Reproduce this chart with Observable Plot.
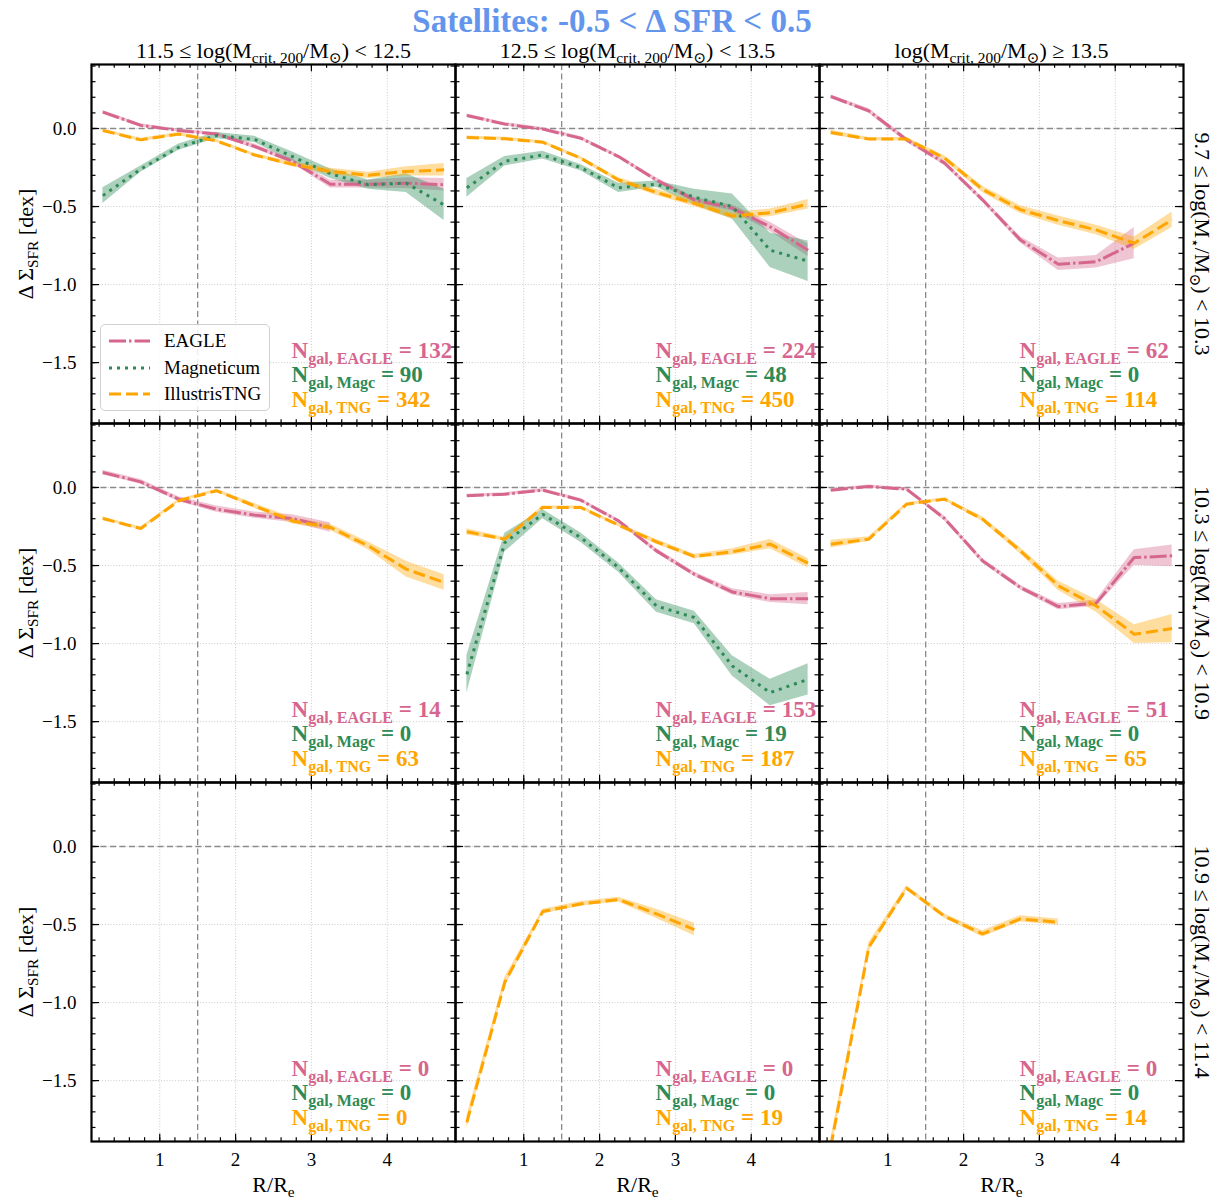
<!DOCTYPE html>
<html><head><meta charset="utf-8">
<script src="https://cdn.jsdelivr.net/npm/d3@7"></script>
<script src="https://cdn.jsdelivr.net/npm/@observablehq/plot@0.6"></script>
<style>
body{margin:0;background:#fff;}
#wrap{position:relative;width:1223px;height:1201px;}
#legend{position:absolute;left:100px;top:324px;width:170px;height:87px;border:1px solid #d0d0d0;border-radius:5px;background:rgba(255,255,255,0.85);font-family:'Liberation Serif','DejaVu Serif',serif;font-size:19px;box-sizing:border-box;}
#legend .row{position:absolute;left:0;height:22px;line-height:22px;}
#legend svg{position:absolute;left:7px;top:6px;}
#legend span{position:absolute;left:63px;white-space:nowrap;}
</style></head><body><div id="wrap"></div><script>
const xBins = [0.25, 0.75, 1.25, 1.75, 2.25, 2.75, 3.25, 3.75, 4.25, 4.75];
const title = "Satellites: -0.5 < Δ SFR < 0.5";
const haloLabels = [
  "11.5 ≤ log(M_{crit, 200}/M_{⊙}) < 12.5",
  "12.5 ≤ log(M_{crit, 200}/M_{⊙}) < 13.5",
  "log(M_{crit, 200}/M_{⊙}) ≥ 13.5"
];
const massLabels = [
  "9.7 ≤ log(M_{⋆}/M_{⊙}) < 10.3",
  "10.3 ≤ log(M_{⋆}/M_{⊙}) < 10.9",
  "10.9 ≤ log(M_{⋆}/M_{⊙}) < 11.4"
];
const yLabel = "Δ Σ_{SFR} [dex]";
const xLabel = "R/R_{e}";
const sims = ["EAGLE", "Magneticum", "IllustrisTNG"];
const simShort = ["EAGLE", "Magc", "TNG"];
const simColors = ["#d6668e", "#2e8b57", "#ffa500"];
const simDash = ["17,3,2.5,3", "3,5", "12,5"];
const yTickValues = [-1.5, -1.0, -0.5, 0.0];
const xTickValues = [1, 2, 3, 4];

// medians: [row = stellar-mass bin][col = halo-mass bin] -> values at xBins (null = no data)
const eagleMed = [
  [[0.105, 0.02, -0.013, -0.036, -0.115, -0.21, -0.357, -0.357, -0.35, -0.36],
   [0.083, 0.028, -0.004, -0.062, -0.18, -0.33, -0.457, -0.51, -0.63, -0.78],
   [0.205, 0.113, -0.073, -0.222, -0.457, -0.714, -0.87, -0.853, -0.735, null]],
  [[0.096, 0.036, -0.075, -0.139, -0.177, -0.199, -0.256, null, null, null],
   [-0.053, -0.043, -0.017, -0.081, -0.214, -0.406, -0.556, -0.669, -0.712, -0.712],
   [-0.017, 0.006, -0.011, -0.199, -0.47, -0.641, -0.763, -0.741, -0.449, -0.438]],
  [[], [], []]
];
const eagleErr = [
  [[0.01, 0.01, 0.01, 0.01, 0.015, 0.015, 0.025, 0.025, 0.035, 0.04],
   [0.01, 0.01, 0.01, 0.01, 0.01, 0.015, 0.015, 0.02, 0.03, 0.04],
   [0.01, 0.015, 0.015, 0.015, 0.015, 0.02, 0.04, 0.04, 0.1, null]],
  [[0.015, 0.015, 0.015, 0.02, 0.02, 0.025, 0.03, null, null, null],
   [0.01, 0.01, 0.01, 0.01, 0.01, 0.015, 0.015, 0.02, 0.025, 0.04],
   [0.01, 0.01, 0.01, 0.015, 0.015, 0.015, 0.02, 0.02, 0.05, 0.07]],
  [[], [], []]
];
const magcMed = [
  [[-0.43, -0.26, -0.12, -0.045, -0.07, -0.18, -0.29, -0.36, -0.35, -0.49],
   [-0.38, -0.21, -0.17, -0.25, -0.38, -0.357, -0.44, -0.5, -0.78, -0.85],
   []],
  [[], [-1.197, -0.353, -0.171, -0.32, -0.513, -0.759, -0.833, -1.143, -1.314, -1.229], []],
  [[], [], []]
];
const magcErr = [
  [[0.05, 0.02, 0.02, 0.02, 0.02, 0.03, 0.03, 0.03, 0.06, 0.1],
   [0.06, 0.03, 0.025, 0.02, 0.03, 0.02, 0.05, 0.08, 0.11, 0.13],
   []],
  [[], [0.12, 0.06, 0.03, 0.03, 0.03, 0.04, 0.04, 0.065, 0.085, 0.1], []],
  [[], [], []]
];
const tngMed = [
  [[-0.013, -0.073, -0.036, -0.08, -0.17, -0.23, -0.275, -0.30, -0.275, -0.265],
   [-0.058, -0.066, -0.088, -0.19, -0.33, -0.41, -0.48, -0.56, -0.54, -0.485],
   [-0.026, -0.068, -0.068, -0.19, -0.39, -0.52, -0.59, -0.65, -0.735, -0.585]],
  [[-0.199, -0.263, -0.085, -0.021, -0.118, -0.214, -0.256, -0.374, -0.523, -0.609],
   [-0.284, -0.331, -0.128, -0.128, -0.241, -0.348, -0.442, -0.412, -0.363, -0.485],
   [-0.363, -0.331, -0.107, -0.075, -0.203, -0.406, -0.63, -0.759, -0.94, -0.904]],
  [[],
   [-1.767, -0.87, -0.417, -0.368, -0.34, -0.432, -0.532, null, null, null],
   [-1.92, -0.645, -0.267, -0.447, -0.56, -0.464, -0.485, null, null, null]]
];
const tngErr = [
  [[0.01, 0.01, 0.01, 0.01, 0.01, 0.015, 0.02, 0.02, 0.03, 0.04],
   [0.01, 0.01, 0.01, 0.01, 0.015, 0.02, 0.02, 0.02, 0.025, 0.03],
   [0.015, 0.01, 0.01, 0.015, 0.02, 0.025, 0.03, 0.03, 0.04, 0.05]],
  [[0.01, 0.01, 0.01, 0.01, 0.015, 0.02, 0.02, 0.025, 0.05, 0.05],
   [0.02, 0.01, 0.01, 0.01, 0.01, 0.015, 0.015, 0.02, 0.03, 0.03],
   [0.025, 0.015, 0.01, 0.01, 0.015, 0.02, 0.03, 0.04, 0.06, 0.09]],
  [[],
   [0.04, 0.03, 0.015, 0.015, 0.015, 0.03, 0.04, null, null, null],
   [0.05, 0.03, 0.015, 0.015, 0.02, 0.02, 0.02, null, null, null]]
];
const ngalEagle = [[132, 224, 62], [14, 153, 51], [0, 0, 0]];
const ngalMagc = [[90, 48, 0], [0, 19, 0], [0, 0, 0]];
const ngalTNG = [[342, 450, 114], [63, 187, 65], [0, 19, 14]];

// ---- build tables ----
const medAll = [eagleMed, magcMed, tngMed];
const errAll = [eagleErr, magcErr, tngErr];
const ngalAll = [ngalEagle, ngalMagc, ngalTNG];
const profiles = sims.map((s, si) => {
  const out = [];
  for (let r = 0; r < 3; r++) for (let c = 0; c < 3; c++) {
    const m = medAll[si][r][c], e = errAll[si][r][c];
    m.forEach((v, i) => {
      if (v == null) return;
      out.push({row: r, col: c, x: xBins[i], y: v, lo: v - e[i], hi: v + e[i]});
    });
  }
  return out;
});
const ngalRows = sims.map((s, si) => {
  const out = [];
  for (let r = 0; r < 3; r++) for (let c = 0; c < 3; c++)
    out.push({row: r, col: c, label: `N_{gal, ${simShort[si]}} = ${ngalAll[si][r][c]}`});
  return out;
});

const W = 1223, H = 1201, mL = 91, mR = 40, mT = 63, mB = 59;
const pw = (W - mL - mR) / 3, ph = (H - mT - mB) / 3;
const xMinor = d3.range(1, 25).map(i => i / 5);
const yMinor = d3.range(-18, 5).map(i => i / 10);
const majLen = 8, minLen = 4.5;
const tickStyle = {stroke: "black", strokeWidth: 1.2};
const fmt = d => (d < 0 ? "\u2212" : "") + Math.abs(d).toFixed(1);

const marks = [
  Plot.ruleX(xTickValues, {stroke: "#c4c4c4", strokeWidth: 0.9, strokeDasharray: "1,1.8"}),
  Plot.ruleY(yTickValues, {stroke: "#c4c4c4", strokeWidth: 0.9, strokeDasharray: "1,1.8"}),
  Plot.ruleY([0], {stroke: "#8a8a8a", strokeWidth: 1.3, strokeDasharray: "6,3.5"}),
  Plot.ruleX([1.5], {stroke: "#8a8a8a", strokeWidth: 1.3, strokeDasharray: "6,3.5"})
];
sims.forEach((s, si) => {
  marks.push(Plot.areaY(profiles[si], {x: "x", y1: "lo", y2: "hi", fx: "col", fy: "row", fill: simColors[si], fillOpacity: si === 1 ? 0.4 : 0.38, clip: true}));
});
sims.forEach((s, si) => {
  marks.push(Plot.line(profiles[si], {x: "x", y: "y", fx: "col", fy: "row", stroke: simColors[si], strokeWidth: 3, strokeDasharray: simDash[si], strokeLinecap: "butt", strokeLinejoin: "miter", clip: true}));
});
marks.push(
  Plot.tickX(xMinor, {x: d => d, insetTop: ph - minLen, ...tickStyle}),
  Plot.tickX(xMinor, {x: d => d, insetBottom: ph - minLen, ...tickStyle}),
  Plot.tickX(xTickValues, {x: d => d, insetTop: ph - majLen, ...tickStyle}),
  Plot.tickX(xTickValues, {x: d => d, insetBottom: ph - majLen, ...tickStyle}),
  Plot.tickY(yMinor, {y: d => d, insetRight: pw - minLen, ...tickStyle}),
  Plot.tickY(yMinor, {y: d => d, insetLeft: pw - minLen, ...tickStyle}),
  Plot.tickY(yTickValues, {y: d => d, insetRight: pw - majLen, ...tickStyle}),
  Plot.tickY(yTickValues, {y: d => d, insetLeft: pw - majLen, ...tickStyle}),
  Plot.frame({stroke: "black", strokeWidth: 2.2}),
  Plot.axisY({anchor: "left", ticks: yTickValues, tickFormat: fmt, tickSize: 0, tickPadding: 15, label: null, fontSize: 19}),
  Plot.axisX({anchor: "bottom", ticks: xTickValues, tickFormat: d => String(d), tickSize: 0, tickPadding: 11, label: null, fontSize: 19})
);
sims.forEach((s, si) => {
  marks.push(Plot.text(ngalRows[si], {fx: "col", fy: "row", text: "label", frameAnchor: "bottom-left", dx: 200, dy: -66 + si * 24.5, lineAnchor: "bottom", textAnchor: "start", fill: simColors[si], fontWeight: "bold", fontSize: 23}));
});
marks.push(
  Plot.text([0, 1, 2], {fx: d => d, fy: () => 0, text: d => haloLabels[d], frameAnchor: "top", dy: -7, lineAnchor: "bottom", fontSize: 22}),
  Plot.text([title], {fx: () => 1, fy: () => 0, text: d => d, frameAnchor: "top", dx: -25.5, dy: -33, lineAnchor: "bottom", fontSize: 33, fontWeight: "bold", fill: "#6495ed"}),
  Plot.text([0, 1, 2], {fx: () => 2, fy: d => d, text: d => massLabels[d], frameAnchor: "right", textAnchor: "middle", dx: 19, rotate: 90, fontSize: 22}),
  Plot.text([0, 1, 2], {fx: () => 0, fy: d => d, text: () => yLabel, frameAnchor: "left", textAnchor: "middle", dx: -66, rotate: -90, fontSize: 22}),
  Plot.text([0, 1, 2], {fx: d => d, fy: () => 2, text: () => xLabel, frameAnchor: "bottom", dy: 50, lineAnchor: "bottom", fontSize: 22})
);

const chart = Plot.plot({
  width: W, height: H,
  marginLeft: mL, marginRight: mR, marginTop: mT, marginBottom: mB,
  x: {domain: [0.1, 4.9]},
  y: {domain: [-1.89, 0.41]},
  fx: {domain: [0, 1, 2], padding: 0, axis: null},
  fy: {domain: [0, 1, 2], padding: 0, axis: null},
  style: {fontFamily: "'Liberation Serif','DejaVu Serif','DejaVu Sans',serif", fontSize: "19px", background: "white", overflow: "visible", color: "black"},
  marks
});
const wrap = document.getElementById("wrap");
wrap.appendChild(chart);

// sub/superscript markup -> tspans
function applyMarkup(root) {
  root.querySelectorAll("text").forEach(t => {
    const s = t.textContent;
    if (!/[_^]\{/.test(s) || t.querySelector("tspan")) return;
    const fs = parseFloat(getComputedStyle(t).fontSize) || 19;
    t.textContent = "";
    let shift = 0, last = 0, m;
    const re = /([_^])\{([^}]*)\}/g;
    const add = (str, kind) => {
      const ts = document.createElementNS("http://www.w3.org/2000/svg", "tspan");
      ts.textContent = str;
      const target = kind === "_" ? 0.27 * fs : kind === "^" ? -0.35 * fs : 0;
      const dy = target - shift; shift = target;
      if (dy) ts.setAttribute("dy", dy);
      if (kind) ts.setAttribute("font-size", (0.7 * fs).toFixed(1));
      t.appendChild(ts);
    };
    while ((m = re.exec(s))) {
      if (m.index > last) add(s.slice(last, m.index), null);
      add(m[2], m[1]);
      last = re.lastIndex;
    }
    if (last < s.length) add(s.slice(last), null);
  });
}
applyMarkup(chart);

// legend (inside top-left panel)
const leg = document.createElement("div");
leg.id = "legend";
sims.forEach((s, si) => {
  const row = document.createElement("div");
  row.className = "row";
  row.style.top = (5 + si * 26.5) + "px";
  row.style.width = "100%";
  row.innerHTML = `<svg width="44" height="10"><line x1="1" x2="42" y1="5" y2="5" stroke="${simColors[si]}" stroke-width="3" stroke-dasharray="${simDash[si]}"/></svg><span>${s}</span>`;
  leg.appendChild(row);
});
wrap.appendChild(leg);
</script></body></html>
